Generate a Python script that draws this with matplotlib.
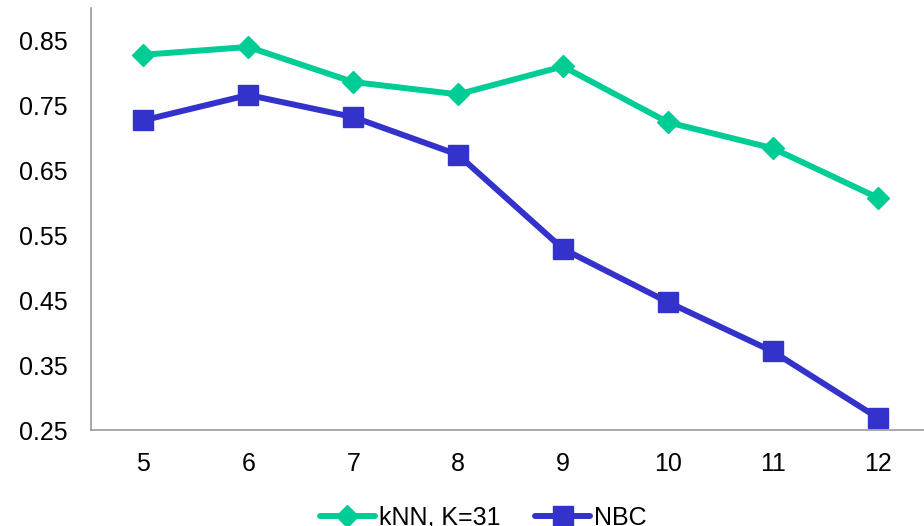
import matplotlib
matplotlib.use('Agg')
import matplotlib.pyplot as plt

plt.rcParams['font.family'] = ['Liberation Sans', 'DejaVu Sans']

# number of features
categories = ['5', '6', '7', '8', '9', '10', '11', '12']
knn_vals = [0.828, 0.840, 0.786, 0.767, 0.810, 0.724, 0.684, 0.608]
nbc_vals = [0.727, 0.766, 0.732, 0.674, 0.529, 0.447, 0.371, 0.269]
yticks = [0.25, 0.35, 0.45, 0.55, 0.65, 0.75, 0.85]

fig = plt.figure(figsize=(9.24, 5.26), dpi=100)
ax = fig.add_axes([91 / 924, 1 - 430 / 526, 839 / 924, 422 / 526])

ax.plot(categories, knn_vals, color='#00CC96', lw=4.3, marker='D', ms=11,
        label='kNN, K=31', solid_capstyle='round')
ax.plot(categories, nbc_vals, color='#3333CC', lw=4.3, marker='s', ms=14,
        label='NBC', solid_capstyle='round')

ax.set_xlim(-0.5, 7.5)
ax.set_ylim(0.25, 0.9)
ax.set_yticks(yticks)
ax.set_yticklabels([f'{v:.2f}' for v in yticks])
ax.tick_params(length=0, labelsize=18, colors='black')
ax.tick_params(axis='y', pad=16.5)
ax.tick_params(axis='x', pad=16)
for s in ['top', 'right']:
    ax.spines[s].set_visible(False)
for s in ['left', 'bottom']:
    ax.spines[s].set_color('#999999')
    ax.spines[s].set_linewidth(1.2)

fig.legend(loc='lower center', bbox_to_anchor=(0.523, -0.05), ncol=2, frameon=False,
           fontsize=18, handlelength=2.2, handletextpad=0.15, columnspacing=1.4)

fig.savefig('out.png', dpi=100)
